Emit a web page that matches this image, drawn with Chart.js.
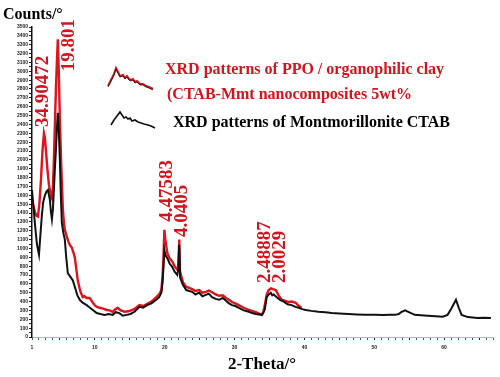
<!DOCTYPE html>
<html>
<head>
<meta charset="utf-8">
<script src="https://cdn.jsdelivr.net/npm/chart.js@4.4.0/dist/chart.umd.min.js"></script>
<style>
  html, body { margin: 0; padding: 0; background: #fff; }
  #wrap { width: 500px; height: 377px; }
</style>
</head>
<body>
<div id="wrap"><canvas id="myChart" width="500" height="377"></canvas></div>
<script>
// 2-Theta (deg) and counts
const blackTheta = [1.0,1.2,1.43,1.7,2.0,2.2,2.42,2.6,2.85,3.05,3.28,3.45,3.56,3.7,3.85,4.0,4.13,4.28,4.42,4.56,4.70,4.85,4.99,5.13,5.27,5.5,5.7,5.9,6.13,6.4,6.84,7.0,7.27,7.5,7.84,8.2,8.83,9.3,9.8,10.26,10.8,11.4,12.0,12.54,13.0,13.5,14.0,14.53,15.1,15.67,16.0,16.38,16.9,17.5,18.1,18.8,19.2,19.52,19.7,19.8,19.95,20.09,20.37,20.7,21.09,21.4,21.8,21.94,22.08,22.2,22.6,23.08,23.5,23.93,24.4,24.93,25.4,25.9,26.3,26.78,27.3,27.78,28.3,28.78,29.2,29.63,30.1,30.6,31.3,32.05,32.5,33.05,33.5,33.9,34.1,34.33,34.6,34.9,35.19,35.4,35.6,36.04,36.5,37.04,37.6,38.18,38.7,39.18,39.7,40.17,41,42,43,43.9,45,46.3,47.5,48.7,50,51.3,52.2,53.0,53.5,53.85,54.42,55.1,55.8,56.7,57.7,58.8,59.8,60.5,61.1,61.7,62.1,62.5,63.4,64.1,64.8,65.7,66.7];
const blackCounts = [1660,1480,1270,1050,930,1150,1380,1520,1600,1640,1660,1590,1550,1420,1330,1450,1660,1900,2110,2350,2530,2300,2000,1600,1290,1170,1100,900,720,690,640,600,530,470,420,390,360,330,300,270,260,250,260,250,280,270,240,250,260,285,310,340,330,360,380,420,450,500,620,760,980,930,890,830,790,740,700,760,1040,670,590,530,520,510,480,500,460,475,490,450,430,420,440,410,380,360,350,330,300,285,270,260,255,250,270,310,450,480,500,470,480,450,420,400,370,360,340,330,315,305,295,285,280,270,265,260,255,250,252,248,250,250,260,280,300,275,250,245,240,235,230,250,330,420,330,250,225,220,215,218,215];

const redTheta = [1.0,1.2,1.43,1.65,1.85,2.05,2.28,2.5,2.71,2.85,2.99,3.2,3.42,3.65,3.85,4.0,4.13,4.28,4.42,4.56,4.70,4.85,4.99,5.2,5.42,5.56,5.70,5.99,6.2,6.41,6.70,6.9,7.13,7.35,7.55,7.9,8.26,8.5,8.83,9.26,9.6,9.97,10.3,10.69,11.2,11.68,12.1,12.54,12.9,13.25,13.7,14.25,14.8,15.39,15.9,16.38,16.9,17.5,18.1,18.8,19.2,19.52,19.7,19.8,19.95,20.09,20.37,20.7,21.09,21.4,21.8,21.94,22.08,22.2,22.6,23.08,23.5,23.93,24.4,24.93,25.4,25.9,26.3,26.78,27.3,27.78,28.3,28.78,29.2,29.63,30.1,30.6,31.3,32.05,32.5,33.05,33.5,33.9,34.1,34.33,34.6,34.9,35.19,35.5,35.9,36.3,36.75,37.2,37.75,38.2,38.75,39.2,39.6];
const redCounts = [1550,1480,1410,1370,1360,1500,1770,2100,2300,2250,2110,1900,1720,1620,1570,1700,2000,2400,2790,3100,3360,2950,2450,1900,1440,1300,1210,1130,1080,1040,1010,960,900,760,640,520,450,460,440,440,400,360,340,330,320,305,300,285,310,330,300,285,290,305,330,360,350,375,400,450,480,530,700,850,1210,1100,950,890,850,800,760,800,1100,740,620,565,555,540,520,530,500,510,525,505,480,465,470,440,420,395,380,360,330,305,295,280,265,250,280,360,480,530,550,540,530,470,420,410,395,400,385,350,330];

// peak labels (d-spacing) and where their text starts
const peakLabels = ['34.90472', '19.801', '4.47583', '4.0405', '2.48887', '2.0029'];
const peakTheta  = [2.57, 6.27, 20.3, 22.5, 34.33, 36.54];
const peakCounts = [2370, 3000, 1300, 1130, 610, 610];

const legendLines = [
    'XRD patterns of PPO / organophilic clay',
    '(CTAB-Mmt nanocomposites 5wt%',
    'XRD patterns of Montmorillonite CTAB'
];

const RED = '#e0121b';
const TEXT_RED = '#d3141c';
const BLACK = '#111111';
const SERIF = '"Liberation Serif", "DejaVu Serif", serif';

const toXY = (xs, ys) => xs.map((x, i) => ({ x: x, y: ys[i] }));

// texts, legend and peak labels
const overlayPlugin = {
    id: 'overlay',
    afterDraw(chart) {
        const ctx = chart.ctx;
        const xs = chart.scales.x;
        const ys = chart.scales.y;
        ctx.save();

        // peak labels, rotated
        ctx.font = 'bold 19px ' + SERIF;
        ctx.fillStyle = TEXT_RED;
        ctx.textAlign = 'left';
        ctx.textBaseline = 'middle';
        peakLabels.forEach((lab, i) => {
            const px = xs.getPixelForValue(peakTheta[i]);
            const py = ys.getPixelForValue(peakCounts[i]);
            ctx.save();
            ctx.translate(px, py);
            ctx.rotate(-Math.PI / 2);
            ctx.fillText(lab, 0, 0);
            ctx.restore();
        });

        // axis titles
        ctx.fillStyle = '#000';
        ctx.textBaseline = 'alphabetic';
        ctx.font = 'bold 16px ' + SERIF;
        ctx.textAlign = 'left';
        ctx.fillText('Counts/\u00b0', 3, 19);
        ctx.font = 'bold 17px ' + SERIF;
        ctx.textAlign = 'center';
        ctx.fillText('2-Theta/\u00b0', 262, 369);

        // legend texts
        ctx.font = 'bold 16px ' + SERIF;
        ctx.textAlign = 'left';
        ctx.fillStyle = TEXT_RED;
        ctx.fillText(legendLines[0], 165, 74);
        ctx.fillText(legendLines[1], 167, 99);
        ctx.fillStyle = '#000';
        ctx.fillText(legendLines[2], 173, 127);

        // legend icons: small pattern-like squiggles
        const iconA = [[108,86],[111,80],[114,74],[116,68],[118,72],[120,76],[123,75],[125,78],[127,76],[129,79],[131,80],[133,79],[135,82],[137,81],[140,84],[143,84],[146,86],[149,87],[153,89]];
        const iconB = [[111,125],[114,120],[117,116],[120,112],[122,115],[124,118],[126,117],[128,119],[130,118],[132,121],[135,120],[138,122],[141,123],[144,124],[148,125],[151,126],[155,128]];
        const poly = (pts, color, w, dy) => {
            ctx.beginPath();
            pts.forEach((p, i) => i ? ctx.lineTo(p[0], p[1] + dy) : ctx.moveTo(p[0], p[1] + dy));
            ctx.strokeStyle = color;
            ctx.lineWidth = w;
            ctx.stroke();
        };
        poly(iconA, RED, 2, 0);
        poly(iconA, BLACK, 0.8, 1);
        poly(iconB, BLACK, 1.6, 0);

        ctx.restore();
    }
};

const ctx = document.getElementById('myChart').getContext('2d');
const chart = new Chart(ctx, {
    type: 'scatter',
    data: {
        datasets: [
            {
                label: 'Montmorillonite CTAB',
                data: toXY(blackTheta, blackCounts),
                showLine: true,
                borderColor: BLACK,
                borderWidth: 2,
                pointRadius: 0,
                tension: 0,
                order: 1
            },
            {
                label: 'PPO / organophilic clay',
                data: toXY(redTheta, redCounts),
                showLine: true,
                borderColor: RED,
                borderWidth: 2.4,
                pointRadius: 0,
                tension: 0,
                order: 2
            }
        ]
    },
    options: {
        responsive: false,
        animation: false,
        layout: { padding: { top: 27, right: 7, left: 0, bottom: 0 } },
        plugins: {
            legend: { display: false },
            tooltip: { enabled: false }
        },
        scales: {
            x: {
                type: 'linear',
                min: 1,
                max: 67,
                afterFit: (s) => { s.height = 40; },
                ticks: {
                    stepSize: 1,
                    autoSkip: false,
                    maxRotation: 0,
                    padding: 5,
                    font: { size: 5, weight: 'bold' },
                    color: '#222',
                    callback: (v) => (v === 1 || v % 10 === 0) ? String(v) : ''
                },
                grid: {
                    drawOnChartArea: false,
                    tickLength: 3,
                    tickColor: (c) => (c.tick && c.tick.value % 5 === 0) ? '#222' : '#555'
                },
                border: { color: '#8cc9c9', width: 1, dash: [2, 2] }
            },
            y: {
                min: 0,
                max: 3500,
                afterFit: (s) => { s.width = 32; },
                ticks: {
                    stepSize: 50,
                    autoSkip: false,
                    padding: 1,
                    font: { size: 5, weight: 'bold' },
                    color: '#222',
                    callback: (v) => v % 100 === 0 ? String(v) : ''
                },
                grid: {
                    drawOnChartArea: false,
                    tickLength: 3,
                    tickColor: '#222'
                },
                border: { color: '#111', width: 1.5 }
            }
        }
    },
    plugins: [overlayPlugin]
});
</script>
</body>
</html>
